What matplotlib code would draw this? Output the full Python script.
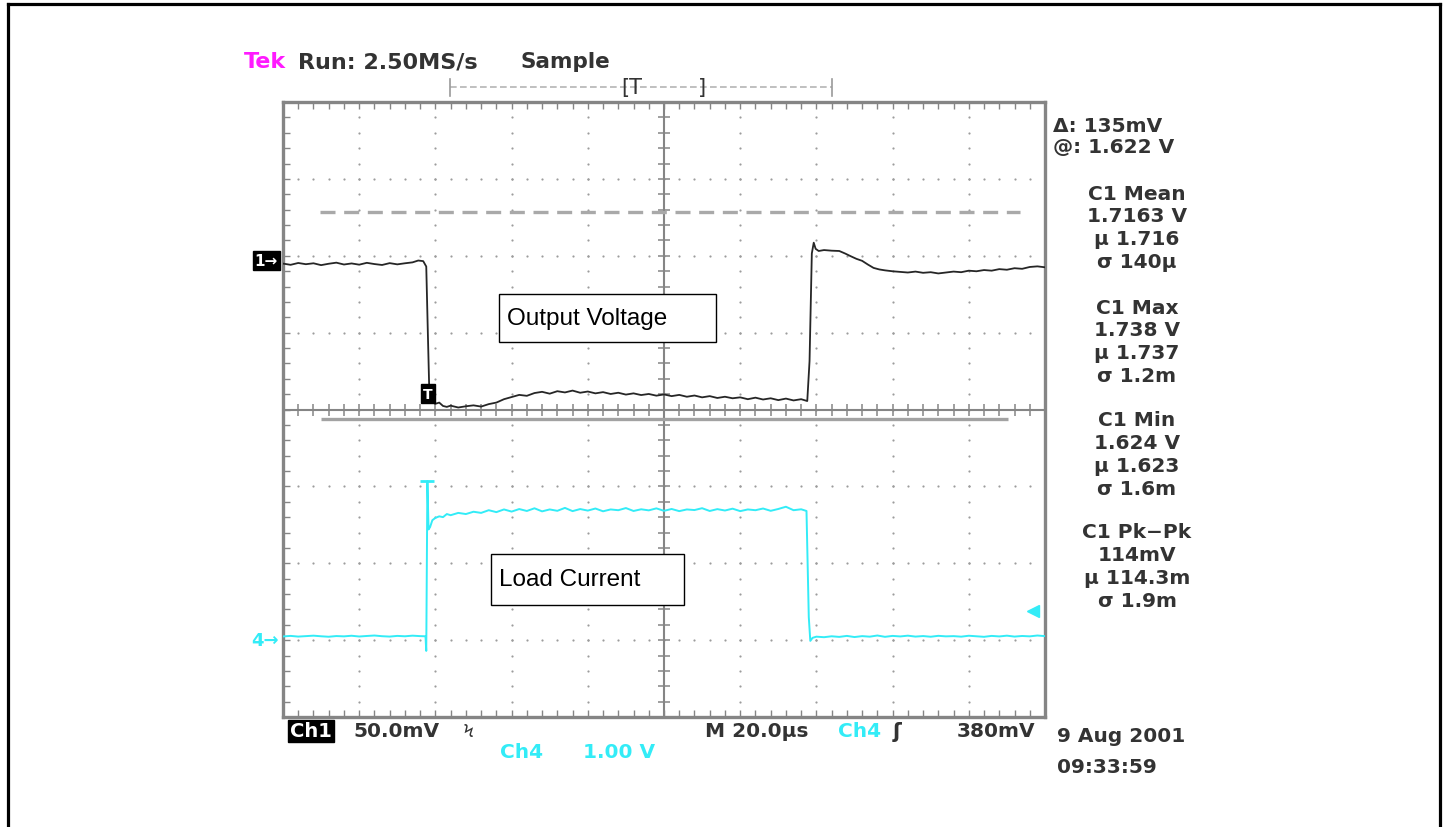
import matplotlib.pyplot as plt
import numpy as np
from matplotlib.lines import Line2D
from matplotlib.patches import Rectangle

W, H = 1447, 828

# Ch1: output voltage (V), 50 mV/div, time in us (20 us/div)
ch1_t = [0, 2, 4, 6, 8, 10, 12, 14, 16, 18, 20, 22, 24, 26, 28, 30, 32, 34,
         35.5, 36.8, 37.6, 38.0, 38.4, 39.0, 40, 41, 42, 43, 44, 46, 48, 50, 52, 54,
         56, 58, 60, 62, 64, 66, 68, 70, 72, 74, 76, 78, 80, 82, 84, 86, 88, 90,
         92, 94, 96, 98, 100, 102, 104, 106, 108, 110, 112, 114, 116, 118, 120,
         122, 124, 126, 128, 130, 132, 134, 136, 137.6, 138.2, 138.8, 139.3, 139.8,
         140.6, 142, 144, 146, 147.5, 149, 150.5, 152, 153.5, 155, 156.5, 158, 160,
         162, 164, 166, 168, 170, 172, 174, 176, 178, 180, 182, 184, 186, 188, 190,
         192, 194, 196, 198, 200]
ch1_v = [1.7234, 1.7226, 1.7238, 1.7230, 1.7236, 1.7224, 1.7233, 1.7240, 1.7228,
         1.7235, 1.7227, 1.7239, 1.7231, 1.7225, 1.7237, 1.7229, 1.7236, 1.7242,
         1.7254, 1.7250, 1.7215, 1.6800, 1.6400, 1.6335, 1.6322, 1.6330, 1.6308,
         1.6302, 1.6310, 1.6298, 1.6306, 1.6312, 1.6304, 1.6320, 1.6330, 1.6352,
         1.6366, 1.6380, 1.6374, 1.6392, 1.6400, 1.6388, 1.6404, 1.6396, 1.6408,
         1.6394, 1.6402, 1.6390, 1.6398, 1.6386, 1.6394, 1.6382, 1.6390, 1.6379,
         1.6386, 1.6375, 1.6383, 1.6372, 1.6380, 1.6368, 1.6376, 1.6364, 1.6372,
         1.6360, 1.6368, 1.6358, 1.6364, 1.6352, 1.6362, 1.6350, 1.6358, 1.6346,
         1.6356, 1.6344, 1.6352, 1.6340, 1.6600, 1.7300, 1.7370, 1.7330, 1.7316,
         1.7322, 1.7318, 1.7316, 1.7300, 1.7282, 1.7265, 1.7252, 1.7228, 1.7206,
         1.7196, 1.7190, 1.7184, 1.7180, 1.7176, 1.7182, 1.7174, 1.7178, 1.7170,
         1.7176, 1.7182, 1.7178, 1.7188, 1.7184, 1.7192, 1.7188, 1.7198, 1.7194,
         1.7204, 1.7200, 1.7212, 1.7216, 1.7210]

# Ch4: load current sense (V above ch4 ground), 1 V/div
ch4_t = [0, 2, 4, 6, 8, 10, 12, 14, 16, 18, 20, 22, 24, 26, 28, 30, 32, 34, 36,
         37.4, 37.6, 37.9, 38.2, 38.6, 39.2, 40, 41, 42, 43, 44, 46, 48, 50, 52, 54,
         56, 58, 60, 62, 64, 66, 68, 70, 72, 74, 76, 78, 80, 82, 84, 86, 88, 90, 92,
         94, 96, 98, 100, 102, 104, 106, 108, 110, 112, 114, 116, 118, 120, 122, 124,
         126, 128, 130, 132, 134, 136, 137.4, 138.0, 138.4, 139, 140, 142, 144, 146,
         148, 150, 152, 154, 156, 158, 160, 162, 164, 166, 168, 170, 172, 174, 176,
         178, 180, 182, 184, 186, 188, 190, 192, 194, 196, 198, 200]
ch4_v = [0.048, 0.055, 0.046, 0.052, 0.058, 0.050, 0.044, 0.053, 0.049, 0.057,
         0.047, 0.054, 0.060, 0.051, 0.046, 0.055, 0.050, 0.058, 0.052,
         0.050, -0.140, 2.070, 1.440, 1.470, 1.560, 1.590, 1.610, 1.600, 1.640,
         1.625, 1.655, 1.640, 1.670, 1.655, 1.690, 1.665, 1.700, 1.672, 1.705,
         1.680, 1.715, 1.675, 1.700, 1.682, 1.720, 1.678, 1.705, 1.685, 1.712,
         1.676, 1.700, 1.690, 1.718, 1.680, 1.702, 1.688, 1.714, 1.682, 1.706,
         1.678, 1.700, 1.692, 1.716, 1.680, 1.704, 1.686, 1.710, 1.678, 1.700,
         1.690, 1.712, 1.682, 1.706, 1.735, 1.690, 1.702, 1.680, 0.300, -0.010,
         0.030, 0.045, 0.038, 0.050, 0.042, 0.055, 0.040, 0.052, 0.045, 0.060,
         0.043, 0.055, 0.048, 0.058, 0.046, 0.053, 0.044, 0.056, 0.049, 0.052,
         0.045, 0.057, 0.050, 0.043, 0.055, 0.048, 0.058, 0.046, 0.054, 0.049,
         0.060, 0.052]

# cursors (V)
cursor_a = 1.622
cursor_b = 1.757
ch1_ref = 1.7254       # "1->" marker level
trig_t = 38.1          # trigger point
trig_v = 1.6389
ch4_trig = 0.38        # ch4 trigger level

right_lines = [["C1 Mean", "1.7163 V", "\u00b5 1.716", "\u03c3 140\u00b5"],
               ["C1 Max", "1.738 V", "\u00b5 1.737", "\u03c3 1.2m"],
               ["C1 Min", "1.624 V", "\u00b5 1.623", "\u03c3 1.6m"],
               ["C1 Pk\u2212Pk", "114mV", "\u00b5 114.3m", "\u03c3 1.9m"]]

V0 = 1.6285            # ch1 value at screen centre
CYAN = '#33ecf7'
GREY = '#858585'
TXT = '#333333'


def px(x, y):
    return x / W, 1 - y / H


fig = plt.figure(figsize=(W / 100, H / 100), dpi=100)
fig.patch.set_facecolor('white')
ax = fig.add_axes([283 / W, (H - 718) / H, 762 / W, 615 / H])
ax.set_xlim(0, 200)
ax.set_ylim(V0 - 0.2, V0 + 0.2)

# graticule
for s in ax.spines.values():
    s.set_color(GREY)
    s.set_linewidth(2.4)
ax.set_xticks(np.arange(0, 201, 4))
ax.set_yticks(V0 + 0.01 * np.arange(-20, 21))
ax.tick_params(direction='in', length=5, width=1, color=GREY, top=True, right=True,
               labelbottom=False, labelleft=False)

dot_y = V0 + 0.01 * np.arange(-20, 21)
for k in [1, 2, 3, 4, 6, 7, 8, 9]:
    ax.scatter(np.full(dot_y.size, 20 * k), dot_y, s=2.5, color='#9c9c9c', lw=0, zorder=1)
dot_x = np.arange(0, 201, 4)
for j in [-3, -2, -1, 1, 2, 3]:
    ax.scatter(dot_x, np.full(dot_x.size, V0 + 0.05 * j), s=2.5, color='#9c9c9c', lw=0, zorder=1)

ax.axvline(100, color=GREY, lw=1.5, zorder=1)
ax.axhline(V0, color=GREY, lw=1.5, zorder=1)
ax.plot(dot_x, np.full(dot_x.size, V0), ls='none', marker='|', ms=8, mew=1.1, color=GREY, zorder=1)
ax.plot(np.full(dot_y.size, 100), dot_y, ls='none', marker='_', ms=8, mew=1.1, color=GREY, zorder=1)

# cursors
ax.hlines(cursor_b, 9.7, 193.5, colors='#a9a9a9', linestyles=(0, (4.5, 2.6)), lw=2.4, zorder=2)
ax.hlines(cursor_a, 9.9, 190.3, colors='#a2a2a2', lw=2.4, zorder=2)

# ch1 trace
ax.plot(ch1_t, ch1_v, color='#262626', lw=1.3, zorder=3)
ax.text(trig_t, trig_v, 'T', color='white', fontsize=10, fontweight='bold', ha='center',
        va='center', zorder=4, bbox=dict(boxstyle='square,pad=0.15', fc='black', ec='black'))
ax.text(-0.022, ch1_ref, '1\u2192', transform=ax.get_yaxis_transform(), color='white',
        fontsize=11, fontweight='bold', ha='center', va='center', clip_on=False,
        bbox=dict(boxstyle='square,pad=0.12', fc='black', ec='black'))

# ch4 trace
ax4 = ax.twinx()
ax4.set_ylim(-1, 7)
ax4.set_yticks([])
for s in ax4.spines.values():
    s.set_visible(False)
ax4.plot(ch4_t, ch4_v, color=CYAN, lw=1.4, zorder=3)
i_pk = int(np.argmax(ch4_v))
ax4.plot([ch4_t[i_pk]], [ch4_v[i_pk]], marker='_', ms=10, mew=2, color=CYAN)
ax4.plot([196.9], [ch4_trig], marker='<', ms=8, color=CYAN, ls='none')
ax4.text(-0.024, 0, '4\u2192', transform=ax4.get_yaxis_transform(), color=CYAN,
         fontsize=13, fontweight='bold', ha='center', va='center', clip_on=False)

# annotation boxes
for (x0, y0, x1, y1), lab, tx in [((499, 295, 716, 343), 'Output Voltage', 507),
                                  ((491, 555, 684, 606), 'Load Current', 499)]:
    fig.add_artist(Rectangle(px(x0, y1), (x1 - x0) / W, (y1 - y0) / H, transform=fig.transFigure,
                             fill=True, fc='white', ec='black', lw=1.0, zorder=5))
    fig.text(*px(tx, (y0 + y1) / 2), lab, fontsize=17.5, family='Liberation Sans',
             ha='left', va='center', color='black', zorder=6)

# scope header
fig.text(*px(244, 62), 'Tek', color='#ff1aff', fontsize=16, fontweight='bold', va='center')
fig.text(*px(298, 62), 'Run: 2.50MS/s', color=TXT, fontsize=16, fontweight='bold', va='center')
fig.text(*px(520, 62), 'Sample', color=TXT, fontsize=15.5, fontweight='bold', va='center')

# record bar
fig.add_artist(Line2D([450 / W, 832 / W], [1 - 88 / H] * 2, transform=fig.transFigure,
                      color='#b5b5b5', lw=1.2, ls=(0, (4, 2))))
for xb in [450, 832]:
    fig.add_artist(Line2D([xb / W] * 2, [1 - 80 / H, 1 - 97 / H], transform=fig.transFigure,
                          color='#9a9a9a', lw=1.2))
fig.text(*px(621, 88), '[T', color=TXT, fontsize=15, va='center')
fig.text(*px(698, 88), ']', color=TXT, fontsize=15, va='center')

# right readouts
fig.text(*px(1053, 126), '\u0394: 135mV', color=TXT, fontsize=14.5, fontweight='bold', va='center')
fig.text(*px(1053, 148), '@: 1.622 V', color=TXT, fontsize=14.5, fontweight='bold', va='center')
for b, block in enumerate(right_lines):
    y0 = [194, 308, 421, 533][b]
    for i, line in enumerate(block):
        fig.text(*px(1137, y0 + 22.8 * i), line, color=TXT, fontsize=14.5,
                 fontweight='bold', ha='center', va='center')

# bottom readouts
fig.text(*px(290, 732), 'Ch1', color='white', fontsize=14, fontweight='bold', va='center',
         bbox=dict(boxstyle='square,pad=0.1', fc='black', ec='black'))
fig.text(*px(353, 732), '50.0mV', color=TXT, fontsize=14.5, fontweight='bold', va='center')
fig.text(*px(462, 732), '\u03de', color=TXT, fontsize=12, va='center')
fig.text(*px(705, 732), 'M 20.0\u00b5s', color=TXT, fontsize=14.5, fontweight='bold', va='center')
fig.text(*px(838, 732), 'Ch4', color=CYAN, fontsize=14.5, fontweight='bold', va='center')
fig.text(*px(893, 732), '\u0283', color=TXT, fontsize=15, fontweight='bold', va='center')
fig.text(*px(957, 732), '380mV', color=TXT, fontsize=14.5, fontweight='bold', va='center')
fig.text(*px(500, 753), 'Ch4', color=CYAN, fontsize=14.5, fontweight='bold', va='center')
fig.text(*px(583, 753), '1.00 V', color=CYAN, fontsize=14.5, fontweight='bold', va='center')
fig.text(*px(1057, 737), '9 Aug 2001', color=TXT, fontsize=14.5, fontweight='bold', va='center')
fig.text(*px(1057, 768), '09:33:59', color=TXT, fontsize=14.5, fontweight='bold', va='center')

# outer frame
for xs, ys in [([8, 8], [5, H]), ([8, 1440], [5, 5]), ([1440, 1440], [5, H])]:
    fig.add_artist(Line2D([x / W for x in xs], [1 - y / H for y in ys],
                          transform=fig.transFigure, color='black', lw=2.3))

fig.savefig('out.png', dpi=100)
